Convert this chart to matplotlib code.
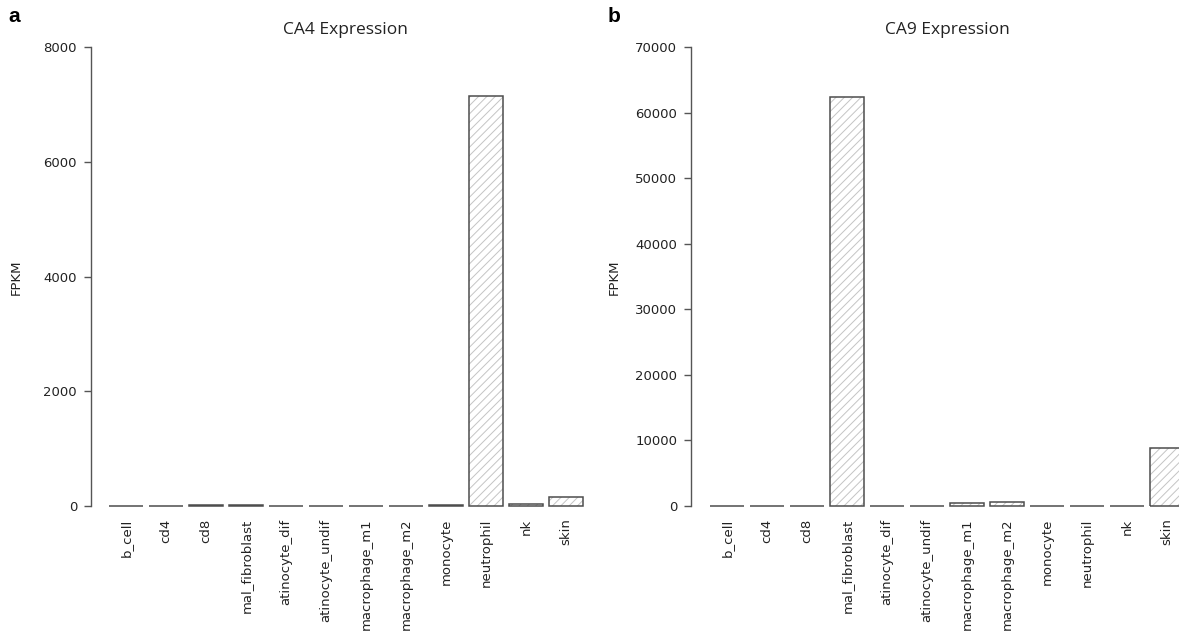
# -*- coding: utf-8 -*-
'''
Bar charts of CA4 and CA9 expression (FPKM) per cell type.
'''
import matplotlib
matplotlib.use('agg')
import matplotlib.pyplot as plt

cell_types = ['b_cell', 'cd4', 'cd8', 'mal_fibroblast', 'atinocyte_dif',
              'atinocyte_undif', 'macrophage_m1', 'macrophage_m2', 'monocyte',
              'neutrophil', 'nk', 'skin']
ca4_fpkm = [8, 6, 12, 14, 4, 3, 3, 3, 10, 7150, 35, 160]
ca9_fpkm = [20, 20, 60, 62400, 30, 20, 480, 620, 15, 10, 10, 8900]
ca4_ticks = [0, 2000, 4000, 6000, 8000]
ca9_ticks = [0, 10000, 20000, 30000, 40000, 50000, 60000, 70000]

W, H = 1179, 632
plt.rcParams['hatch.linewidth'] = 0.7
plt.rcParams['font.family'] = 'DejaVu Sans'


def px_axes(fig, x0, x1, y_top, y_bottom):
    return fig.add_axes([x0 / W, 1 - y_bottom / H, (x1 - x0) / W, (y_bottom - y_top) / H])


def bar_panel(ax, values, ticks, xlim, width):
    pos = range(len(values))
    # hatch in light grey, outline drawn on top in dark grey
    ax.bar(pos, values, width=width, color='white', edgecolor='#c4c4c4',
           hatch='////', linewidth=0, clip_on=False)
    ax.bar(pos, values, width=width, color='none', edgecolor='#4d4d4d',
           linewidth=1.1, clip_on=False)
    ax.set_xlim(*xlim)
    ax.set_ylim(ticks[0], ticks[-1])
    for s in ['top', 'right', 'bottom']:
        ax.spines[s].set_visible(False)
    ax.spines['left'].set_color('#555555')
    ax.spines['left'].set_linewidth(1.0)
    ax.set_yticks(ticks)
    ax.set_yticklabels([str(t) for t in ticks])
    ax.tick_params(axis='y', length=5, width=1.0, color='#555555',
                   labelsize=9.5, labelcolor='#222222', pad=5)
    ax.set_xticks(list(pos))
    ax.set_xticklabels(cell_types, rotation=90, va='top', ha='center')
    ax.tick_params(axis='x', length=0, labelsize=9.5, labelcolor='#222222', pad=9)
    ax.patch.set_alpha(0)


fig = plt.figure(figsize=(W / 100, H / 100), dpi=100)

# panel a: bar centres at 126 + 40*i px
ax1 = px_axes(fig, 91, 600, 47, 506)
bar_panel(ax1, ca4_fpkm, ca4_ticks, ((91 - 126) / 40, (600 - 126) / 40), 0.85)

# panel b: bar centres at 727 + 40*i px, cropped at the right edge
ax2 = px_axes(fig, 691, 1179, 47, 506)
bar_panel(ax2, ca9_fpkm, ca9_ticks, ((691 - 727) / 40, (1179 - 727) / 40), 0.85)

title_font = ['Open Sans', 'DejaVu Sans']
fig.text(345 / W, 1 - 30 / H, 'CA4 Expression', ha='center', va='center',
         fontsize=12.5, color='#222222', family=title_font)
fig.text(947 / W, 1 - 30 / H, 'CA9 Expression', ha='center', va='center',
         fontsize=12.5, color='#222222', family=title_font)

fig.text(16 / W, 1 - 277 / H, 'FPKM', rotation=90, ha='center', va='center',
         fontsize=9.5, color='#222222')
fig.text(614 / W, 1 - 277 / H, 'FPKM', rotation=90, ha='center', va='center',
         fontsize=9.5, color='#222222')

fig.text(14 / W, 1 - 16 / H, 'a', ha='center', va='center', fontsize=15,
         fontweight='bold', family=['Liberation Sans', 'DejaVu Sans'])
fig.text(614 / W, 1 - 16 / H, 'b', ha='center', va='center', fontsize=15,
         fontweight='bold', family=['Liberation Sans', 'DejaVu Sans'])

fig.savefig('out.png', dpi=100)
